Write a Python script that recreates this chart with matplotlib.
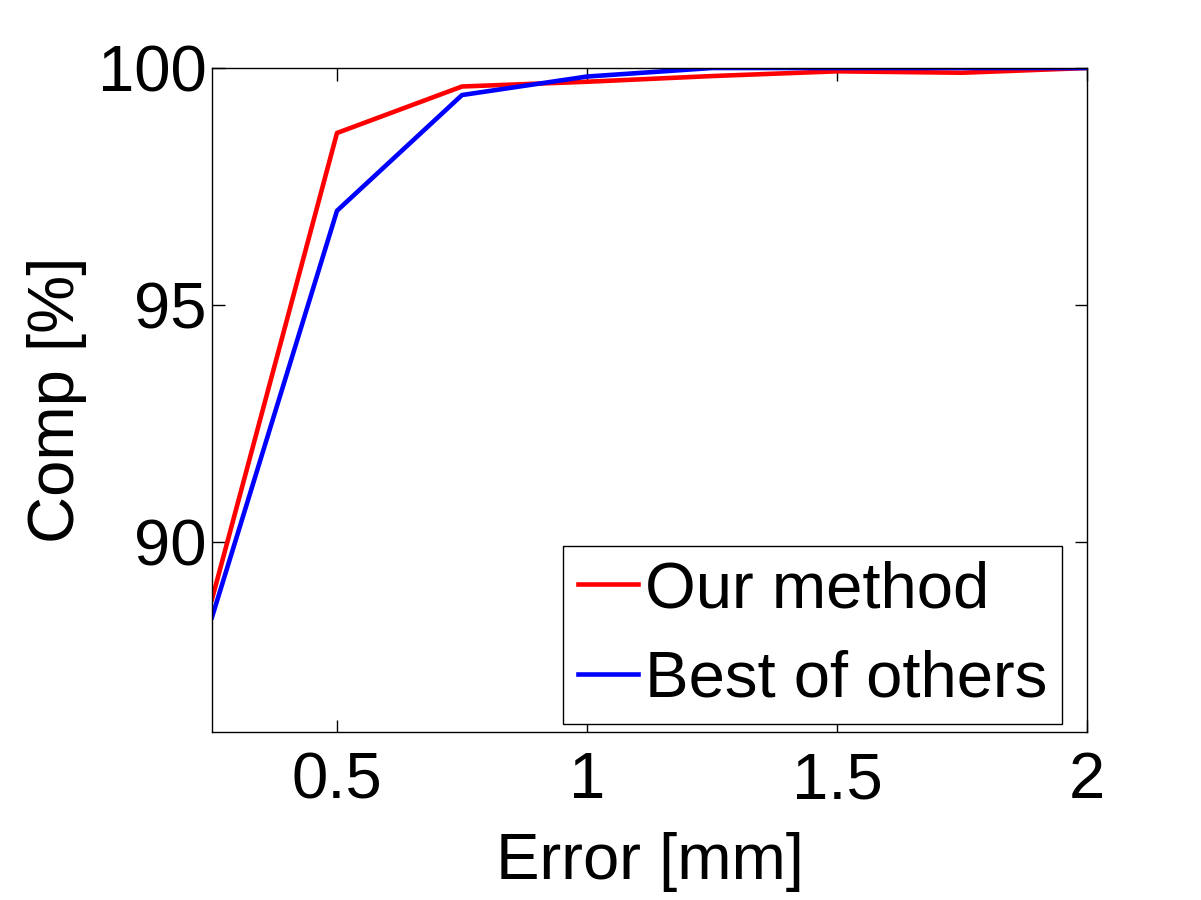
import matplotlib
matplotlib.use("Agg")
import matplotlib.pyplot as plt

error_mm = [0.25, 0.5, 0.75, 1.0, 1.25, 1.5, 1.75, 2.0]
our_method = [88.80, 98.63, 99.61, 99.71, 99.83, 99.93, 99.90, 100.0]
best_others = [88.42, 96.99, 99.43, 99.82, 100.0, 100.0, 100.0, 100.0]
xticks = [0.5, 1, 1.5, 2]
xticklabels = ["0.5", "1", "1.5", "2"]
yticks = [90, 95, 100]
yticklabels = ["90", "95", "100"]

plt.rcParams['font.family'] = ['Liberation Sans', 'DejaVu Sans']
fs = 47

fig = plt.figure(figsize=(12.01, 9.00), dpi=100)
ax = fig.add_axes([212/1201, 1-732/900, 875/1201, 664/900])
ax.plot(error_mm, our_method, color='#ff0000', lw=3.3, label='Our method')
ax.plot(error_mm, best_others, color='#0000ff', lw=3.3, label='Best of others')
ax.set_xlim(0.25, 2)
ax.set_ylim(86, 100)
ax.set_xticks(xticks)
ax.set_xticklabels(xticklabels)
ax.set_yticks(yticks)
ax.set_yticklabels(yticklabels)
ax.tick_params(direction='in', length=9, width=1, top=True, right=True, labelsize=fs)
ax.tick_params(axis='x', pad=14)
ax.tick_params(axis='y', pad=4)
for s in ax.spines.values():
    s.set_linewidth(1)
ax.set_xlabel('Error [mm]', fontsize=fs, labelpad=15)
ax.set_ylabel('Comp [%]', fontsize=fs, labelpad=8)
leg = ax.legend(loc='lower right', bbox_to_anchor=(0.971, 0.012), borderaxespad=0,
                fontsize=fs, handlelength=0.93, handletextpad=0.1, borderpad=0.22,
                labelspacing=0.45, fancybox=False, framealpha=1, edgecolor='black')
leg.get_frame().set_linewidth(1)
fig.savefig('out.png', dpi=100)
